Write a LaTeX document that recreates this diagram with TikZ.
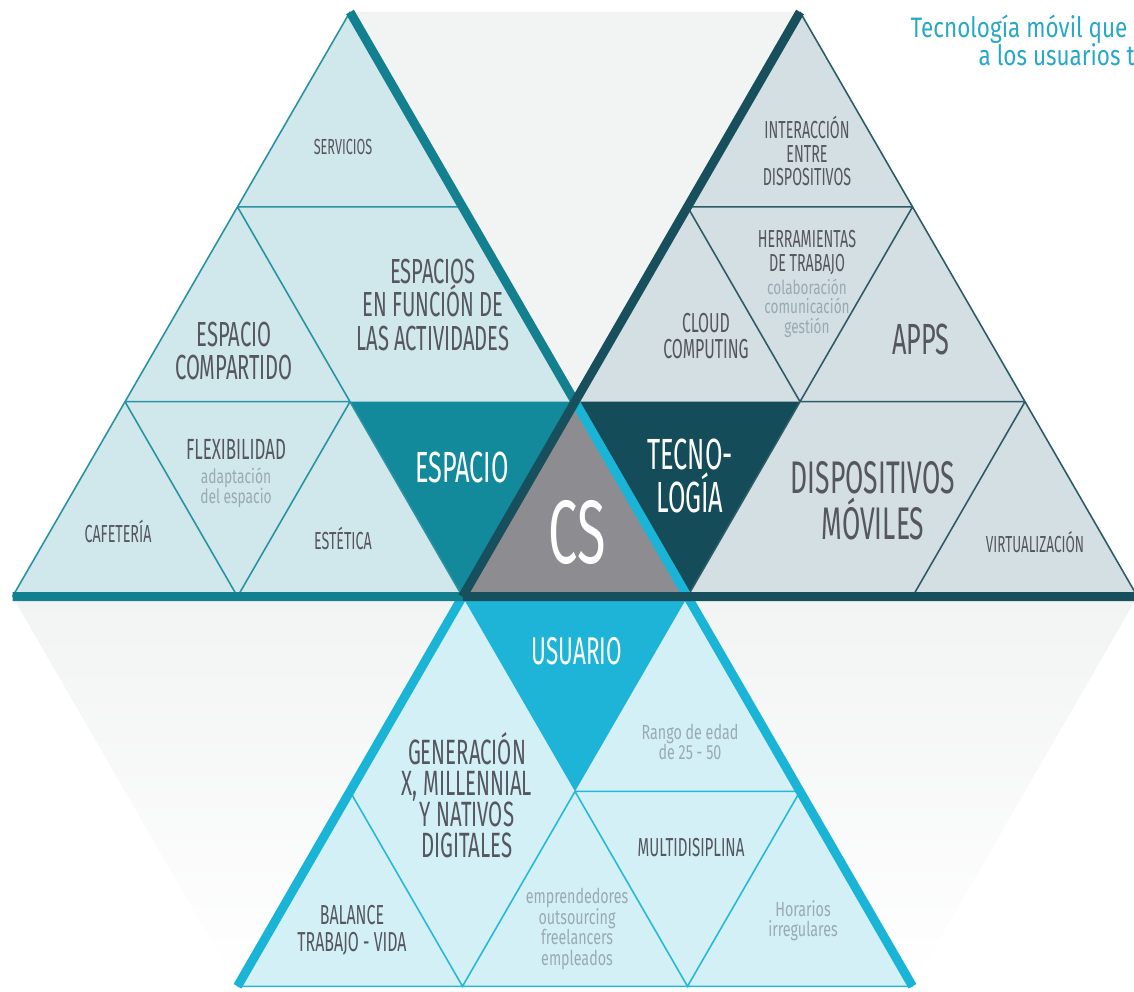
\documentclass[tikz,border=0pt]{standalone}
\usepackage{fontspec}
\setmainfont{Fira Sans}
\newfontfamily\condfont[FakeStretch=0.58]{Fira Sans}
\newfontfamily\slimfont[FakeStretch=0.7]{Fira Sans}
\newfontfamily\notefont[FakeStretch=0.8]{Fira Sans}
\newcommand\capsz[2]{\condfont\fontsize{#1}{#2}\selectfont}
\newcommand\smallsz[2]{\slimfont\fontsize{#1}{#2}\selectfont}

\definecolor{bgfade}{HTML}{F2F3F3}
\definecolor{espfill}{HTML}{D0E7EB}
\definecolor{espline}{HTML}{2A93A3}
\definecolor{espbold}{HTML}{13808F}
\definecolor{espdark}{HTML}{128A9B}
\definecolor{tecfill}{HTML}{D3DFE2}
\definecolor{tecline}{HTML}{2D5C66}
\definecolor{tecbold}{HTML}{17505C}
\definecolor{tecdark}{HTML}{154C59}
\definecolor{usrfill}{HTML}{D2F0F6}
\definecolor{usrline}{HTML}{25B8D8}
\definecolor{usrbold}{HTML}{1AB4D6}
\definecolor{usrdark}{HTML}{1DB4D7}
\definecolor{csgray}{HTML}{8D8C91}
\definecolor{labgray}{HTML}{55565E}
\definecolor{subgray}{HTML}{9AAAB3}
\definecolor{notecyan}{HTML}{27A9C6}

\begin{document}
\begin{tikzpicture}[x=0.01cm,y=-0.01cm,
    lab/.style={text=labgray,align=center,inner sep=0pt},
    sub/.style={text=subgray,align=center,inner sep=0pt},
    head/.style={text=white,align=center,inner sep=0pt},
    note/.style={text=notecyan,inner sep=0pt,font=\notefont\fontsize{8}{8.5}\selectfont},
    fineline/.style={line width=0.45pt},
    boldline/.style={line width=0.09cm}]
    \useasboundingbox (0,0) rectangle (1134,992);

    % Lattice points
    \coordinate (a1) at (350,12);
    \coordinate (a2) at (800,12);
    \coordinate (b1) at (237.5,206.9);
    \coordinate (b2) at (462.5,206.9);
    \coordinate (b3) at (687.5,206.9);
    \coordinate (b4) at (912.5,206.9);
    \coordinate (c1) at (125,401.7);
    \coordinate (c2) at (350,401.7);
    \coordinate (c3) at (575,401.7);
    \coordinate (c4) at (800,401.7);
    \coordinate (c5) at (1025,401.7);
    \coordinate (d1) at (12.5,596.6);
    \coordinate (d2) at (237.5,596.6);
    \coordinate (d3) at (462.5,596.6);
    \coordinate (d4) at (687.5,596.6);
    \coordinate (d5) at (912.5,596.6);
    \coordinate (d6) at (1137.5,596.6);
    \coordinate (e1) at (350,791.4);
    \coordinate (e2) at (575,791.4);
    \coordinate (e3) at (800,791.4);
    \coordinate (f1) at (237.5,986.3);
    \coordinate (f2) at (462.5,986.3);
    \coordinate (f3) at (687.5,986.3);
    \coordinate (f4) at (912.5,986.3);

    % Background
    \fill[bgfade] (a1) -- (a2) -- (c3) -- cycle;
    \shade[top color=bgfade,bottom color=white] (d1) -- (d3) -- (f1) -- cycle;
    \shade[top color=bgfade,bottom color=white] (d4) -- (d6) -- (f4) -- cycle;

    % Fills
    \fill[espfill] (a1) -- (d1) -- (d4) -- cycle;
    \fill[tecfill] (a2) -- (d3) -- (d6) -- cycle;
    \fill[usrfill] (c3) -- (f1) -- (f4) -- cycle;
    \fill[espdark] (c2) -- (c3) -- (d3) -- cycle;
    \fill[tecdark] (c3) -- (c4) -- (d4) -- cycle;
    \fill[usrdark] (d3) -- (d4) -- (e2) -- cycle;
    \fill[csgray] (c3) -- (d3) -- (d4) -- cycle;

    % Grid lines
    \draw[fineline,espline] (a1) -- (d1) (b1) -- (b2) (c1) -- (c2)
        (b1) -- (c2) -- (d3) (c1) -- (d2) -- (c2);
    \draw[fineline,tecline] (a2) -- (d6) (b3) -- (b4) (c4) -- (c5)
        (b3) -- (c4) -- (b4) (c4) -- (d4) (c5) -- (d5);
    \draw[fineline,usrline] (e2) -- (e3) (f1) -- (f4)
        (e1) -- (f2) -- (e2) -- (f3) -- (e3);

    % Thick edges
    \draw[boldline,usrbold] (d3) -- (f1) (c3) -- (f4);
    \draw[boldline,espbold] (a1) -- (c3) (d1) -- (d3);
    \draw[boldline,tecbold] (d3) -- (d6) (a2) -- (d3);

    % Espacio
    \node[lab,font=\capsz{6.2}{7}] (servicios) at (343,147) {SERVICIOS};
    \node[lab,font=\capsz{9.9}{9.6}] (funcion) at (433,305) {ESPACIOS\\EN FUNCIÓN DE\\LAS ACTIVIDADES};
    \node[lab,font=\capsz{9.9}{9.2}] (compartido) at (234,351) {ESPACIO\\COMPARTIDO};
    \node[lab,font=\capsz{8.3}{8}] (flexi) at (236,449) {FLEXIBILIDAD};
    \node[sub,font=\smallsz{5.6}{5.6}] (adapta) at (236,488) {adaptación\\del espacio};
    \node[lab,font=\capsz{7}{7}] (cafeteria) at (118,531) {CAFETERÍA};
    \node[lab,font=\capsz{7}{7}] (estetica) at (343,538) {ESTÉTICA};
    \node[head,font=\capsz{12.4}{12}] (espacio) at (462,467) {ESPACIO};

    % Centro
    \node[head,font=\capsz{25.6}{25}] (cs) at (577,532) {CS};

    % Tecnologia
    \node[head,font=\capsz{12.4}{11.4}] (tecno) at (690,476) {TECNO-\\LOGÍA};
    \node[lab,font=\capsz{7}{6.8}] (interaccion) at (807,151) {INTERACCIÓN\\ENTRE\\DISPOSITIVOS};
    \node[lab,font=\capsz{7}{6.8}] (herram) at (807,253) {HERRAMIENTAS\\DE TRABAJO};
    \node[sub,font=\smallsz{5.5}{5.5}] (tareas) at (807,308) {colaboración\\comunicación\\gestión};
    \node[lab,font=\capsz{7.8}{7.2}] (cloud) at (706,336) {CLOUD\\COMPUTING};
    \node[lab,font=\capsz{12.4}{12}] (apps) at (921,339) {APPS};
    \node[lab,font=\capsz{13}{11}] (moviles) at (873,501) {DISPOSITIVOS\\MÓVILES};
    \node[lab,font=\capsz{6.6}{6.6}] (virtual) at (1035,542) {VIRTUALIZACIÓN};

    % Usuario
    \node[head,font=\capsz{11}{11}] (usuario) at (577,651) {USUARIO};
    \node[sub,font=\smallsz{5.8}{5.7}] (rango) at (690,742) {Rango de edad\\de 25 - 50};
    \node[lab,font=\capsz{10}{8.8}] (generacion) at (467,795) {GENERACIÓN\\X, MILLENNIAL\\Y NATIVOS\\DIGITALES};
    \node[lab,font=\capsz{7.4}{7.4}] (multi) at (691,848) {MULTIDISIPLINA};
    \node[lab,font=\capsz{7.8}{7.8}] (balance) at (352,930) {BALANCE\\TRABAJO - VIDA};
    \node[sub,font=\smallsz{5.8}{5.8}] (perfiles) at (577,929) {emprendedores\\outsourcing\\freelancers\\empleados};
    \node[sub,font=\smallsz{5.8}{5.7}] (horarios) at (803,921) {Horarios\\irregulares};

    % Nota
    \node[note,anchor=base west] (nota1) at (910,38) {Tecnología móvil que};
    \node[note,anchor=base west] (nota2) at (978,66) {a los usuarios t};
\end{tikzpicture}
\end{document}
